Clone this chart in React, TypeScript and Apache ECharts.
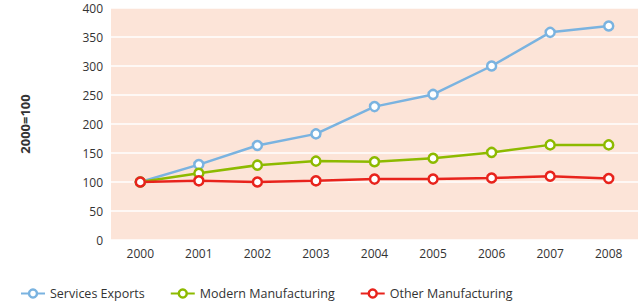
import React, { useEffect, useRef } from "react";
import * as echarts from "echarts";

const years = ["2000", "2001", "2002", "2003", "2004", "2005", "2006", "2007", "2008"];
const servicesExports = [100, 130, 163, 183, 230, 251, 300, 358, 369];
const modernManufacturing = [100, 115, 129, 136, 135, 141, 151, 164, 164];
const otherManufacturing = [100, 102, 100, 102, 105, 105, 107, 110, 106];

const FONT = "'Open Sans', 'DejaVu Sans', sans-serif";

export default function App() {
  const ref = useRef<HTMLDivElement>(null);
  useEffect(() => {
    const chart = echarts.init(ref.current!, null, { renderer: "svg" });
    const mk = (name: string, data: number[], color: string) => ({
      name,
      type: "line",
      data,
      symbol: "circle",
      symbolSize: 9,
      lineStyle: { color, width: 2.5 },
      itemStyle: { color: "#ffffff", borderColor: color, borderWidth: 2.5 },
      emphasis: { disabled: true },
    });
    chart.setOption({
      animation: false,
      textStyle: { fontFamily: FONT },
      grid: { left: 111, right: 0, top: 8, bottom: 63, backgroundColor: "#fce4d8", show: true, borderWidth: 0 },
      legend: {
        left: 15,
        top: 282,
        itemWidth: 24,
        itemHeight: 10,
        itemGap: 25,
        textStyle: { fontSize: 12.5, color: "#333", fontFamily: FONT },
        data: [
          { name: "Services Exports", itemStyle: { color: "#ffffff", borderColor: "#7ab3e0", borderWidth: 2.5 } },
          { name: "Modern Manufacturing", itemStyle: { color: "#ffffff", borderColor: "#8dba00", borderWidth: 2.5 } },
          { name: "Other Manufacturing", itemStyle: { color: "#ffffff", borderColor: "#e8231c", borderWidth: 2.5 } },
        ],
      },
      xAxis: {
        type: "category",
        data: years,
        boundaryGap: true,
        axisLine: { show: false },
        axisTick: { show: false },
        axisLabel: { color: "#333", fontSize: 12, margin: 7 },
      },
      yAxis: {
        type: "value",
        min: 0,
        max: 400,
        interval: 50,
        name: "2000=100",
        nameLocation: "middle",
        nameGap: 80,
        nameTextStyle: { fontWeight: "bold", fontSize: 13, color: "#333" },
        axisLine: { show: false },
        axisTick: { show: false },
        axisLabel: { color: "#333", fontSize: 12, margin: 8 },
        splitLine: { lineStyle: { color: "#ffffff", width: 1.5 } },
      },
      series: [
        mk("Services Exports", servicesExports, "#7ab3e0"),
        mk("Modern Manufacturing", modernManufacturing, "#8dba00"),
        mk("Other Manufacturing", otherManufacturing, "#e8231c"),
      ],
    });
    return () => chart.dispose();
  }, []);
  return <div ref={ref} style={{ width: 638, height: 303, position: "absolute", left: 0, top: 0 }} />;
}
